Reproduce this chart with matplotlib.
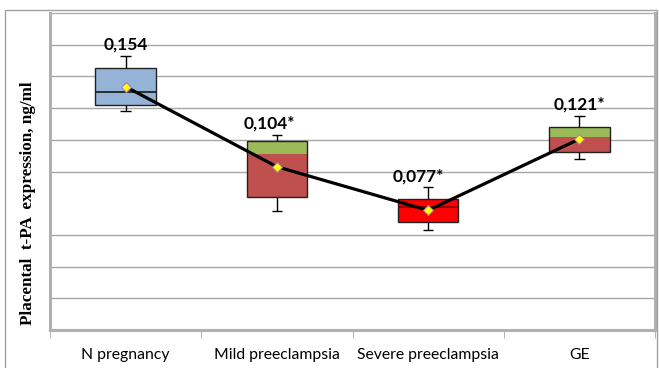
import matplotlib
matplotlib.use("Agg")
import matplotlib.pyplot as plt
from matplotlib.patches import Rectangle

# ---- data ----
categories = ["N pregnancy", "Mild preeclampsia", "Severe preeclampsia", "GE"]
whisker_low = [0.138, 0.075, 0.063, 0.108]
q1 = [0.142, 0.084, 0.068, 0.112]
median = [0.150, 0.111, 0.0776, 0.122]
q3 = [0.165, 0.119, 0.0824, 0.128]
whisker_high = [0.173, 0.123, 0.090, 0.135]
means = [0.1535, 0.103, 0.0755, 0.1205]
mean_labels = ["0,154", "0,104*", "0,077*", "0,121*"]
grid_values = [0.02, 0.04, 0.06, 0.10, 0.12, 0.14, 0.16, 0.18]

# ---- styles ----
lower_colors = ["#95B3D7", "#C0504D", "#FF0000", "#C0504D"]
upper_colors = ["#95B3D7", "#9BBB59", "#FF0000", "#9BBB59"]
median_line = [True, False, True, False]
label_dx = [0, -8, -10, 0]  # pixel offsets

W, H = 659, 368
fig = plt.figure(figsize=(W / 100, H / 100), dpi=100)
fig.patch.set_facecolor("white")
ax = fig.add_axes([50 / W, (H - 330) / H, (655 - 50) / W, (330 - 13) / H])

x = list(range(len(categories)))
bw = 0.40
cap = 0.07

for g in grid_values:
    ax.axhline(g, color="#A6A6A6", lw=1, zorder=0)

lo_h = [m - a for m, a in zip(median, q1)]
up_h = [b - m for m, b in zip(median, q3)]
box_h = [b - a for a, b in zip(q1, q3)]
ax.bar(x, lo_h, bottom=q1, width=bw, color=lower_colors, edgecolor="none", zorder=2)
ax.bar(x, up_h, bottom=median, width=bw, color=upper_colors, edgecolor="none", zorder=2)
ax.bar(x, box_h, bottom=q1, width=bw, fill=False, edgecolor="#222222", lw=1, zorder=3)
for i in x:
    if median_line[i]:
        ax.hlines(median[i], i - bw / 2, i + bw / 2, color="#222222" if i == 0 else "#8B0000", lw=1.3, zorder=3)

ax.vlines(x, q3, whisker_high, color="black", lw=1, zorder=2)
ax.vlines(x, whisker_low, q1, color="black", lw=1, zorder=2)
ax.hlines(whisker_high, [i - cap / 2 for i in x], [i + cap / 2 for i in x], color="black", lw=1, zorder=2)
ax.hlines(whisker_low, [i - cap / 2 for i in x], [i + cap / 2 for i in x], color="black", lw=1, zorder=2)

ax.plot(x, means, color="black", lw=2.3, zorder=4)
ax.plot(x, means, linestyle="none", marker="D", markersize=5.5,
        markerfacecolor="#FFFF00", markeredgecolor="#A07CC0", markeredgewidth=0.8, zorder=5)

for i in x:
    ax.annotate(mean_labels[i], (i, whisker_high[i]), xytext=(label_dx[i] * 0.72, 8.0),
                textcoords="offset points", ha="center", va="center",
                fontsize=12.5, fontweight="bold", family="Lato", color="black")

ax.set_xlim(-0.5, 3.5)
ax.set_ylim(0, 0.2)
ax.set_yticks([])
ax.set_xticks(x)
ax.set_xticklabels(categories, fontsize=11.3, family="Lato")
ax.tick_params(axis="x", which="major", length=0, pad=13)
ax.set_xticks([-0.5, 0.5, 1.5, 2.5, 3.5], minor=True)
ax.tick_params(axis="x", which="minor", length=6, color="#A6A6A6", direction="out")

for s in ["left", "bottom", "right"]:
    ax.spines[s].set_color("#B0B0B0")
    ax.spines[s].set_linewidth(2.2)
ax.spines["top"].set_color("#B0B0B0")
ax.spines["top"].set_linewidth(1)

fig.text(28 / W, 1 - 203 / H, "Placental  t-PA  expression, ng/ml", rotation=90,
         ha="center", va="center", fontsize=12.3, fontweight="bold", family="Liberation Serif")

fig.patches.append(Rectangle((5 / W, -0.01), (657 - 5) / W, (H - 10) / H + 0.01,
                             transform=fig.transFigure, fill=False, edgecolor="#A0A0A0", lw=1))

fig.savefig("out.png", dpi=100, facecolor="white")
